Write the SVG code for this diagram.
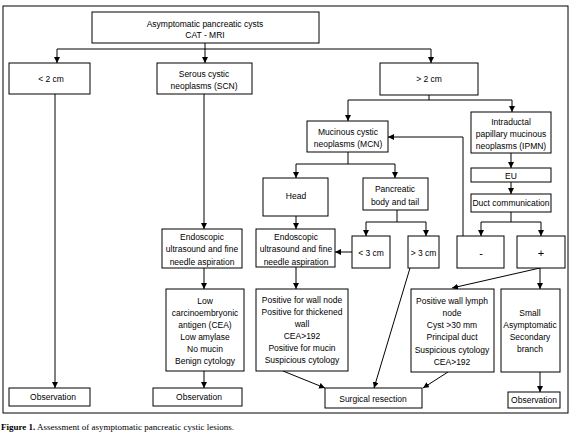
<svg xmlns="http://www.w3.org/2000/svg" width="572" height="435" viewBox="0 0 572 435">
<style>
rect.b{fill:#fff;stroke:#000;stroke-width:1}
text{font-family:"Liberation Sans",Arial,sans-serif;font-size:8.5px;fill:#000;text-anchor:middle}
text.big{font-size:11px}
#connectors line,#connectors polyline{stroke:#000;stroke-width:1;fill:none}
.a{marker-end:url(#ah)}
text.cap{font-family:"Liberation Serif","Times New Roman",serif;text-anchor:start;font-size:9px}
</style>
<defs>
<marker id="ah" markerUnits="userSpaceOnUse" markerWidth="7" markerHeight="6" refX="6" refY="3" orient="auto">
<path d="M0,0 L6,3 L0,6 z" fill="#000"/>
</marker>
</defs>
<rect width="572" height="435" fill="#fff"/>
<rect x="3" y="6" width="565" height="407" fill="none" stroke="#000" stroke-width="1"/>
<g id="connectors">
<line class="a" x1="205" y1="43" x2="205" y2="63"/>
<line x1="57" y1="49" x2="431" y2="49"/>
<line class="a" x1="57" y1="49" x2="57" y2="63"/>
<line class="a" x1="431" y1="49" x2="431" y2="63"/>
<line class="a" x1="55" y1="94" x2="55" y2="388"/>
<line class="a" x1="204" y1="94" x2="204" y2="229"/>
<line class="a" x1="204" y1="268" x2="204" y2="289"/>
<line class="a" x1="204" y1="371" x2="204" y2="388"/>
<line x1="429" y1="95" x2="429" y2="100"/>
<line x1="348" y1="100" x2="512" y2="100"/>
<line class="a" x1="348" y1="100" x2="348" y2="121"/>
<line class="a" x1="512" y1="100" x2="512" y2="112"/>
<polyline class="a" points="463,236 463,137 388,137"/>
<line class="a" x1="511" y1="153" x2="511" y2="168"/>
<line class="a" x1="511" y1="182" x2="511" y2="194"/>
<line x1="511" y1="212" x2="511" y2="222"/>
<line x1="481" y1="222" x2="541" y2="222"/>
<line class="a" x1="481" y1="222" x2="481" y2="236"/>
<line class="a" x1="541" y1="222" x2="541" y2="236"/>
<line x1="348" y1="152" x2="348" y2="164"/>
<line x1="296" y1="164" x2="395" y2="164"/>
<line class="a" x1="296" y1="164" x2="296" y2="178"/>
<line class="a" x1="395" y1="164" x2="395" y2="178"/>
<line class="a" x1="296" y1="216" x2="296" y2="229"/>
<line x1="397" y1="210" x2="397" y2="222"/>
<line x1="366" y1="222" x2="426" y2="222"/>
<line class="a" x1="366" y1="222" x2="366" y2="236"/>
<line class="a" x1="426" y1="222" x2="426" y2="236"/>
<line class="a" x1="352" y1="252" x2="335" y2="252"/>
<line class="a" x1="296" y1="267" x2="296" y2="289"/>
<line class="a" x1="410" y1="268" x2="374" y2="388"/>
<line class="a" x1="283" y1="371" x2="325" y2="388"/>
<line class="a" x1="448" y1="372" x2="423" y2="388"/>
<line class="a" x1="540" y1="268" x2="452" y2="288"/>
<line class="a" x1="540" y1="268" x2="540" y2="289"/>
<line class="a" x1="540" y1="372" x2="540" y2="392"/>
</g>
<g id="n_top"><rect class="b" x="92" y="12" width="227" height="31"/><text x="205" y="26.5">Asymptomatic pancreatic cysts</text><text x="205" y="37.5">CAT - MRI</text></g>
<g id="n_lt2"><rect class="b" x="9" y="63" width="81" height="31"/><text x="51" y="82">&lt; 2 cm</text></g>
<g id="n_scn"><rect class="b" x="157" y="63" width="95" height="31"/><text x="204" y="77">Serous cystic</text><text x="204" y="89">neoplasms (SCN)</text></g>
<g id="n_gt2"><rect class="b" x="380" y="63" width="98" height="32"/><text x="429" y="82">&gt; 2 cm</text></g>
<g id="n_mcn"><rect class="b" x="307" y="121" width="81" height="31"/><text x="348" y="135">Mucinous cystic</text><text x="348" y="147">neoplasms (MCN)</text></g>
<g id="n_ipmn"><rect class="b" x="471" y="112" width="80" height="41"/><text x="511" y="125">Intraductal</text><text x="511" y="137">papillary mucinous</text><text x="511" y="149">neoplasms (IPMN)</text></g>
<g id="n_eu"><rect class="b" x="471" y="168" width="80" height="14"/><text x="511" y="178.5">EU</text></g>
<g id="n_duct"><rect class="b" x="471" y="194" width="80" height="18"/><text x="511" y="206">Duct communication</text></g>
<g id="n_head"><rect class="b" x="263" y="178" width="65" height="38"/><text x="296" y="199">Head</text></g>
<g id="n_body"><rect class="b" x="363" y="178" width="65" height="32"/><text x="395" y="192">Pancreatic</text><text x="395" y="205">body and tail</text></g>
<g id="n_eus1"><rect class="b" x="162" y="229" width="80" height="39"/><text x="202" y="240">Endoscopic</text><text x="202" y="252">ultrasound and fine</text><text x="202" y="265">needle aspiration</text></g>
<g id="n_eus2"><rect class="b" x="256" y="229" width="79" height="38"/><text x="296" y="240">Endoscopic</text><text x="296" y="252">ultrasound and fine</text><text x="296" y="265">needle aspiration</text></g>
<g id="n_lt3"><rect class="b" x="352" y="236" width="38" height="32"/><text x="371" y="256">&lt; 3 cm</text></g>
<g id="n_gt3"><rect class="b" x="408" y="236" width="31" height="32"/><text x="423.5" y="256">&gt; 3 cm</text></g>
<g id="n_minus"><rect class="b" x="457" y="236" width="47" height="32"/><text class="big" x="481" y="257">-</text></g>
<g id="n_plus"><rect class="b" x="517" y="236" width="48" height="32"/><text class="big" x="541" y="257">+</text></g>
<g id="n_cea"><rect class="b" x="166" y="289" width="78" height="82"/><text x="205" y="304">Low</text><text x="205" y="316">carcinoembryonic</text><text x="205" y="328">antigen (CEA)</text><text x="205" y="340">Low amylase</text><text x="205" y="352">No mucin</text><text x="205" y="364">Benign cytology</text></g>
<g id="n_pos"><rect class="b" x="256" y="289" width="92" height="82"/><text x="302" y="303">Positive for wall node</text><text x="302" y="315">Positive for thickened</text><text x="302" y="327">wall</text><text x="302" y="339">CEA&gt;192</text><text x="302" y="351">Positive for mucin</text><text x="302" y="363">Suspicious cytology</text></g>
<g id="n_lymph"><rect class="b" x="411" y="289" width="83" height="83"/><text x="452" y="304">Positive wall lymph</text><text x="452" y="316">node</text><text x="452" y="328">Cyst &gt;30 mm</text><text x="452" y="340">Principal duct</text><text x="452" y="353">Suspicious cytology</text><text x="452" y="365">CEA&gt;192</text></g>
<g id="n_small"><rect class="b" x="501" y="289" width="59" height="83"/><text x="530" y="316">Small</text><text x="530" y="328">Asymptomatic</text><text x="530" y="340">Secondary</text><text x="530" y="352">branch</text></g>
<g id="n_obs1"><rect class="b" x="9" y="388" width="81" height="18"/><text x="53" y="400">Observation</text></g>
<g id="n_obs2"><rect class="b" x="153" y="388" width="89" height="18"/><text x="199" y="400">Observation</text></g>
<g id="n_surg"><rect class="b" x="325" y="388" width="97" height="20"/><text x="373" y="401.5">Surgical resection</text></g>
<g id="n_obs3"><rect class="b" x="508" y="392" width="52" height="16"/><text x="534" y="403">Observation</text></g>
<text class="cap" x="1" y="430"><tspan font-weight="bold">Figure 1.</tspan> Assessment of asymptomatic pancreatic cystic lesions.</text>
</svg>
